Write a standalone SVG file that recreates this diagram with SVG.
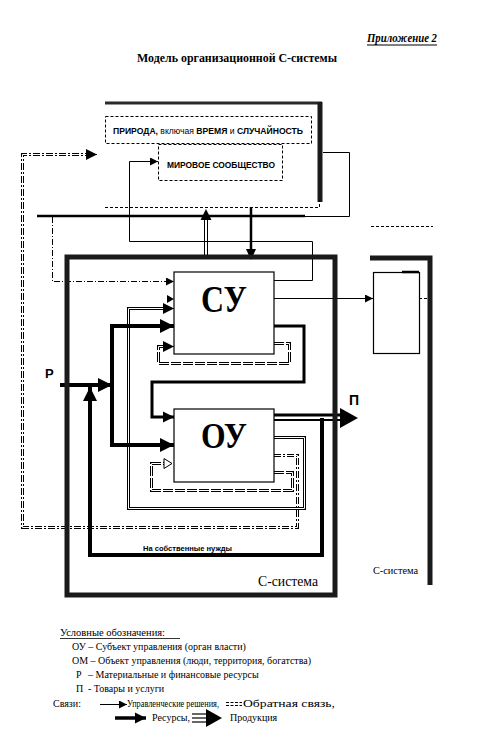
<svg xmlns="http://www.w3.org/2000/svg" width="484" height="752" viewBox="0 0 484 752">
<style>
.serif{font-family:"Liberation Serif","Times New Roman",serif;fill:#000}
.sans{font-family:"Liberation Sans",Arial,sans-serif;fill:#000}
.thin{fill:none;stroke:#000;stroke-width:1}
.res{fill:none;stroke:#000;stroke-width:4}
.dbl{fill:none;stroke:#000;stroke-width:3}
.dblw{fill:none;stroke:#fff;stroke-width:1}
.dd{fill:none;stroke:#000;stroke-width:3;stroke-dasharray:10 2}
.dda{fill:none;stroke:#000;stroke-width:3;stroke-dasharray:7 2 2 2}
.dash{fill:none;stroke:#000;stroke-width:1;stroke-dasharray:3 2}
.dashdot{fill:none;stroke:#000;stroke-width:1;stroke-dasharray:6 2 1 2}
.border{fill:none;stroke:#1a1a1a;stroke-width:5}
.box{fill:#fff;stroke:#000;stroke-width:1.2}
</style>
<defs>
<marker id="ah" viewBox="0 0 10 10" refX="10" refY="5" markerWidth="9" markerHeight="8" markerUnits="userSpaceOnUse" orient="auto"><path d="M0,0L10,5L0,10z"/></marker>
<marker id="ahm" viewBox="0 0 10 10" refX="10" refY="5" markerWidth="11" markerHeight="12" markerUnits="userSpaceOnUse" orient="auto"><path d="M0,0L10,5L0,10z"/></marker>
<marker id="ahb" viewBox="0 0 10 10" refX="10" refY="5" markerWidth="14" markerHeight="16" markerUnits="userSpaceOnUse" orient="auto"><path d="M0,0L10,5L0,10z"/></marker>
</defs>

<g id="header">
<text class="serif" x="367" y="42" font-size="12" font-weight="bold" font-style="italic" textLength="70" lengthAdjust="spacingAndGlyphs">Приложение 2</text>
<line x1="367" y1="45" x2="437" y2="45" stroke="#000" stroke-width="1"/>
<text class="serif" x="237" y="62" font-size="12" font-weight="bold" text-anchor="middle" textLength="200" lengthAdjust="spacingAndGlyphs">Модель организационной С-системы</text>
</g>

<g id="connectors">
<!-- OY -> world outer loop -->
<path class="dda" d="M274,455.5 H297.5 V527.5 H22.5 V154.5 H90"/>
<path class="dblw" d="M274,455.5 H297.5 V527.5 H22.5 V154.5 H90"/>
<path class="thin" d="M88,154.5 H97" marker-end="url(#ahm)"/>
<!-- OY -> CY feedback -->
<path class="dbl" d="M274,437.5 H304.5 V508.5 H128.5 V308.5 H165"/>
<path class="dblw" d="M274,437.5 H304.5 V508.5 H128.5 V308.5 H165"/>
<path class="thin" d="M164,308.5 H174" marker-end="url(#ahm)"/>
<!-- CY self loop -->
<path class="dd" d="M274,343.5 H289.5 V363.5 H158.5 V346.5 H165"/>
<path class="dblw" d="M274,343.5 H289.5 V363.5 H158.5 V346.5 H165"/>
<path class="thin" d="M164,346.5 H174" marker-end="url(#ahm)"/>
<!-- OY self loop -->
<path class="dd" d="M274,472.5 H292.5 V490.5 H151.5 V463.5 H165"/>
<path class="dblw" d="M274,472.5 H292.5 V490.5 H151.5 V463.5 H165"/>
<path d="M164,458.5 L172,463.5 L164,468.5 z" fill="#fff" stroke="#000" stroke-width="1"/>
<!-- small arrow into CY -->
<path d="M167,295 L174,299 L167,303 z" fill="#000"/>

<!-- CY -> world (МИРОВОЕ СООБЩЕСТВО) -->
<path class="thin" d="M274,280.5 H312.5 V241.5 H129.5 V161.5 H158" marker-end="url(#ah)"/>
<!-- environment line -->
<path class="thin" d="M323,152.5 H349.5 V216.5 H300"/>
<line x1="305" y1="216" x2="37" y2="216" stroke="#000" stroke-width="2.5"/>
<path class="dashdot" d="M52.5,217 V281.5 H174" marker-end="url(#ah)"/>
<!-- feedback up to world -->
<line x1="204.5" y1="218" x2="204.5" y2="257" stroke="#000" stroke-width="1"/>
<line x1="207.5" y1="218" x2="207.5" y2="257" stroke="#000" stroke-width="1"/>
<path d="M206,209 L200.5,220 L211.5,220 z" fill="#000"/>
<!-- world -> CY -->
<path d="M251,207 V250" stroke="#000" stroke-width="2.5" fill="none"/>
<path d="M246,249 L251,260 L256,249 z" fill="#000"/>
<!-- CY -> other system -->
<path class="thin" d="M274,298.5 H373" marker-end="url(#ah)"/>
<path class="dash" d="M419,298.5 H430"/>
<path class="dash" d="M371,226.5 H433"/>
<!-- CY -> OY decisions -->
<path d="M274,326 H304 V382 H152 V417 H174" fill="none" stroke="#000" stroke-width="3" marker-end="url(#ahm)"/>
<!-- resources -->
<path class="res" d="M60,385 H112" marker-end="url(#ahb)"/>
<path class="res" d="M112,324 V447"/>
<path class="res" d="M110,326 H174" marker-end="url(#ahb)"/>
<path class="res" d="M110,445 H174" marker-end="url(#ahb)"/>
<!-- own needs -->
<path class="res" d="M322,418 V555 H90 V387" marker-end="url(#ahb)"/>
<!-- product -->
<line x1="274" y1="415" x2="342" y2="415" stroke="#000" stroke-width="3"/>
<line x1="274" y1="420" x2="342" y2="420" stroke="#000" stroke-width="2"/>
<path d="M340,408 L358,418 L340,428 z" fill="#000"/>
</g>

<g id="nature">
<line x1="105" y1="103" x2="322" y2="103" stroke="#2a2a2a" stroke-width="3"/>
<line x1="320" y1="102" x2="320" y2="202" stroke="#1a1a1a" stroke-width="5"/>
<path class="dash" d="M105,207.5 H319.5 V200"/>
<rect x="105.5" y="116.5" width="206" height="27" fill="none" stroke="#000" stroke-width="1" stroke-dasharray="3 2"/>
<text class="sans" x="208" y="134" font-size="8.3" font-weight="bold" text-anchor="middle" textLength="190" lengthAdjust="spacingAndGlyphs">ПРИРОДА, <tspan font-weight="normal">включая</tspan>  ВРЕМЯ <tspan font-weight="normal">и</tspan> СЛУЧАЙНОСТЬ</text>
</g>

<g id="world">
<rect x="158.5" y="144.5" width="124" height="36" fill="none" stroke="#000" stroke-width="1" stroke-dasharray="3 2"/>
<text class="sans" x="221" y="168" font-size="8.5" font-weight="bold" text-anchor="middle" textLength="108" lengthAdjust="spacingAndGlyphs">МИРОВОЕ СООБЩЕСТВО</text>
</g>

<g id="c-system">
<rect class="border" x="67" y="257" width="268" height="338"/>
<text class="serif" x="258" y="586" font-size="15" textLength="60" lengthAdjust="spacingAndGlyphs">С-система</text>
</g>

<g id="other-system">
<path class="border" d="M370,258 H430 V585"/>
<rect x="373.5" y="272.5" width="46" height="81" fill="none" stroke="#000" stroke-width="1.2"/>
<line x1="402" y1="272" x2="419" y2="272" stroke="#000" stroke-width="2.5"/>
<text class="serif" x="373" y="574" font-size="11" textLength="45" lengthAdjust="spacingAndGlyphs">С-система</text>
</g>

<g id="su">
<rect class="box" x="174" y="272" width="100" height="82"/>
<text class="serif" x="224" y="312" font-size="38" font-weight="bold" text-anchor="middle" textLength="46" lengthAdjust="spacingAndGlyphs">СУ</text>
</g>

<g id="ou">
<rect class="box" x="174" y="409" width="100" height="73"/>
<text class="serif" x="224" y="448" font-size="36" font-weight="bold" text-anchor="middle" textLength="46" lengthAdjust="spacingAndGlyphs">ОУ</text>
</g>

<g id="labels">
<text class="sans" x="45" y="378" font-size="13" font-weight="bold">Р</text>
<text class="sans" x="349" y="405" font-size="14" font-weight="bold">П</text>
<text class="sans" x="143" y="551" font-size="8" font-weight="bold" textLength="89" lengthAdjust="spacingAndGlyphs">На собственные нужды</text>
</g>

<g id="legend">
<text class="serif" x="60" y="636" font-size="10.5">Условные обозначения:</text>
<line x1="60" y1="638.5" x2="180" y2="638.5" stroke="#000" stroke-width="0.8"/>
<text class="serif" x="72" y="650" font-size="10">ОУ – Субъект управления (орган власти)</text>
<text class="serif" x="72" y="664" font-size="10">ОМ – Объект управления (люди, территория, богатства)</text>
<text class="serif" x="76" y="678" font-size="10">Р</text>
<text class="serif" x="88" y="678" font-size="10">– Материальные и финансовые ресурсы</text>
<text class="serif" x="76" y="692" font-size="10">П</text>
<text class="serif" x="88" y="692" font-size="10">- Товары и услуги</text>
<text class="serif" x="53" y="707" font-size="10">Связи:</text>
<path class="thin" d="M100,704.5 H127" marker-end="url(#ah)"/>
<text class="serif" x="127" y="707" font-size="9.6" textLength="92" lengthAdjust="spacingAndGlyphs">Управленческие решения,</text>
<line x1="226" y1="702.5" x2="242" y2="702.5" stroke="#000" stroke-width="1" stroke-dasharray="3 1.5"/>
<line x1="226" y1="705.5" x2="242" y2="705.5" stroke="#000" stroke-width="1" stroke-dasharray="3 1.5"/>
<text class="serif" x="243" y="707" font-size="10.5" textLength="92" lengthAdjust="spacingAndGlyphs">Обратная связь,</text>
<path d="M115,718 H146" fill="none" stroke="#000" stroke-width="3.5" marker-end="url(#ahm)"/>
<text class="serif" x="152" y="721" font-size="10">Ресурсы,</text>
<line x1="192" y1="714" x2="208" y2="714" stroke="#000" stroke-width="1.2"/>
<line x1="192" y1="718" x2="208" y2="718" stroke="#000" stroke-width="1.2"/>
<line x1="192" y1="722" x2="208" y2="722" stroke="#000" stroke-width="1.2"/>
<path d="M206,709 L222,718 L206,727 z" fill="#000"/>
<text class="serif" x="230" y="721" font-size="10">Продукция</text>
</g>
</svg>
